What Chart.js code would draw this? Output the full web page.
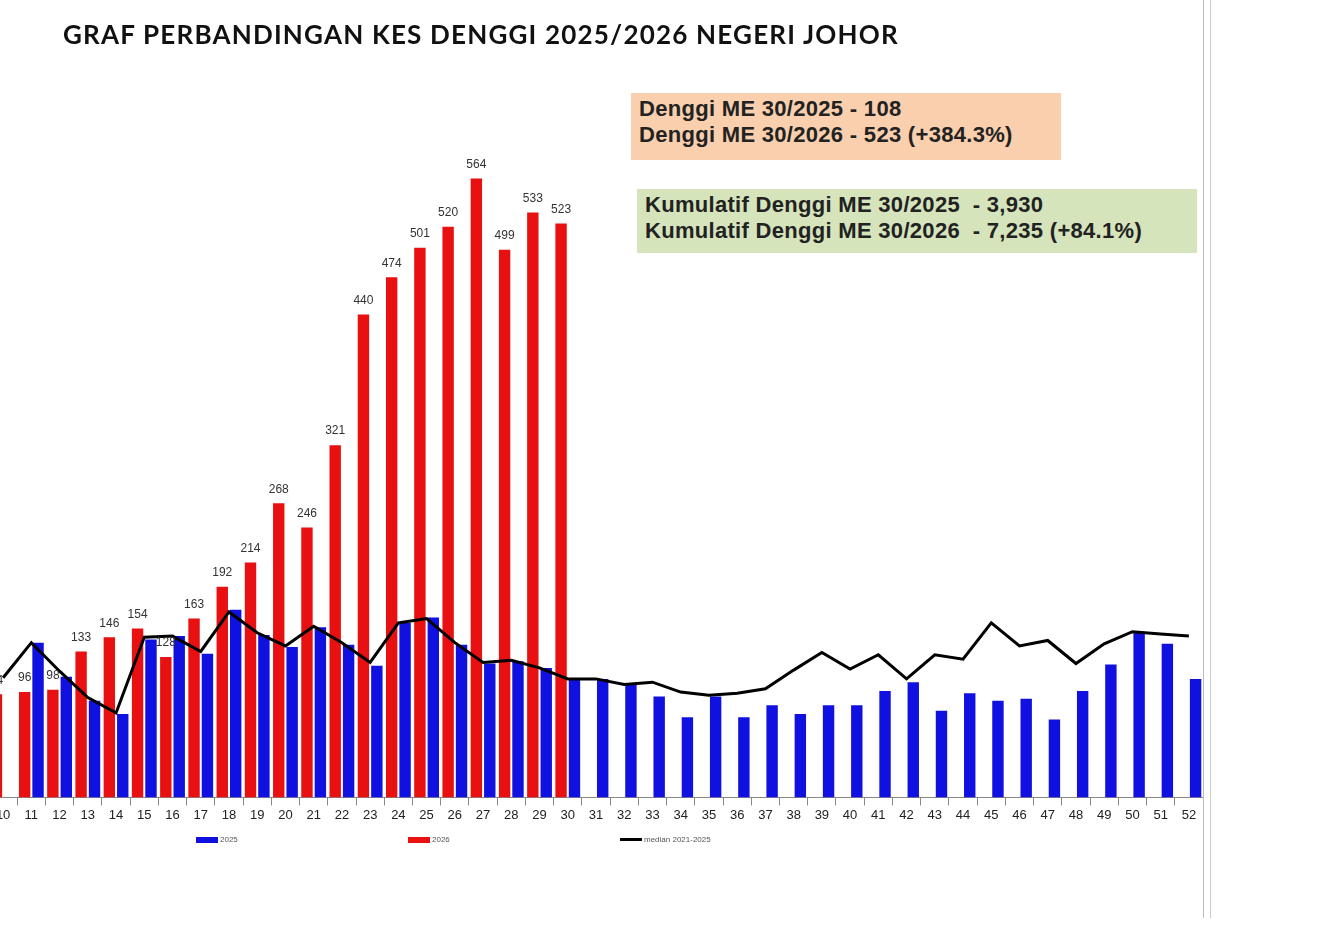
<!DOCTYPE html>
<html><head><meta charset="utf-8">
<script src="https://cdn.jsdelivr.net/npm/chart.js@4/dist/chart.umd.min.js"></script>
<style>
body{margin:0;width:1320px;height:925px;background:#fff;overflow:hidden;position:relative;font-family:"Liberation Sans",Arial,sans-serif}
#wrap{position:absolute;left:-11px;top:0;width:1214px;height:925px}
.title{position:absolute;left:63px;top:18px;font:bold 26px "Lato";color:#111;letter-spacing:1.2px}
.box{position:absolute;font-weight:bold;font-size:22px;letter-spacing:0.3px;color:#222;line-height:26px;padding:3px 8px;box-sizing:border-box}
.leg{position:absolute;top:835px;font-size:8px;color:#555;display:flex;align-items:center}
.leg i{display:inline-block;width:22px;height:6px;margin-right:2px}
</style></head><body>
<div id="wrap"><canvas id="c" width="1214" height="925" style="width:1214px;height:925px"></canvas></div>
<div class="title">GRAF PERBANDINGAN KES DENGGI 2025/2026 NEGERI JOHOR</div>
<div class="box" style="left:631px;top:93px;width:430px;height:67px;background:#f9cfae">Denggi ME 30/2025 - 108<br>Denggi ME 30/2026 - 523 (+384.3%)</div>
<div class="box" style="left:637px;top:189px;width:560px;height:64px;background:#d6e4bc">Kumulatif Denggi ME 30/2025&nbsp; - 3,930<br>Kumulatif Denggi ME 30/2026&nbsp; - 7,235 (+84.1%)</div>
<div class="leg" style="left:196px"><i style="background:#1010e0"></i>2025</div>
<div class="leg" style="left:408px"><i style="background:#e81010"></i>2026</div>
<div class="leg" style="left:620px"><i style="background:#000;height:3px"></i>median 2021-2025</div>
<div style="position:absolute;left:1203px;top:0;width:1px;height:918px;background:#bbb"></div>
<div style="position:absolute;left:1210px;top:0;width:1px;height:918px;background:#ccc"></div>
<script>
const weeks=[];for(let w=10;w<=52;w++)weeks.push(String(w));
const cases2025=[null,141,110,88,76,144,147,131,171,148,137,155,139,120,159,164,139,122,124,118,108,108,103,92,73,92,73,84,76,84,84,97,105,79,95,88,90,71,97,121,151,140,108];
const cases2026=[94,96,98,133,146,154,128,163,192,214,268,246,321,440,474,501,520,564,499,533,523];
const median=[109,141,115,91,77,146,147,133,169,150,138,156,141,123,159,163,141,123,125,118,108,108,103,105,96,93,95,99,116,132,117,130,108,130,126,159,138,143,122,140,151,149,147];
const labelPlugin={id:'lbl',afterDatasetsDraw(ch){const ctx=ch.ctx;const m=ch.getDatasetMeta(2);ctx.save();ctx.font='12px "Liberation Sans"';ctx.fillStyle='#333';ctx.textAlign='center';ctx.textBaseline='bottom';
m.data.forEach((b,i)=>{if(cases2026[i]!=null)ctx.fillText(cases2026[i],b.x,b.y-8);});ctx.restore();}};
new Chart(document.getElementById('c'),{
data:{labels:weeks,datasets:[
{type:'line',label:'median 2021-2025',data:median,borderColor:'#000',borderWidth:3,pointRadius:0,tension:0,order:0},
{type:'bar',label:'2025',data:cases2025,backgroundColor:'#1010e0',barPercentage:0.85,categoryPercentage:0.95,order:2},
{type:'bar',label:'2026',data:cases2026,backgroundColor:'#e81010',barPercentage:0.85,categoryPercentage:0.95,order:1}]},
options:{responsive:false,animation:false,maintainAspectRatio:false,devicePixelRatio:1,
layout:{padding:{top:139,bottom:100,left:0,right:0}},
plugins:{legend:{display:false},tooltip:{enabled:false}},
scales:{y:{display:false,min:0,max:600},
x:{grid:{display:true,drawOnChartArea:false,tickLength:8,color:'#888',offset:true},border:{color:'#888'},ticks:{color:'#222',font:{size:13,family:'Liberation Sans'},padding:2,maxRotation:0,autoSkip:false}}}},
plugins:[labelPlugin]});
</script></body></html>
